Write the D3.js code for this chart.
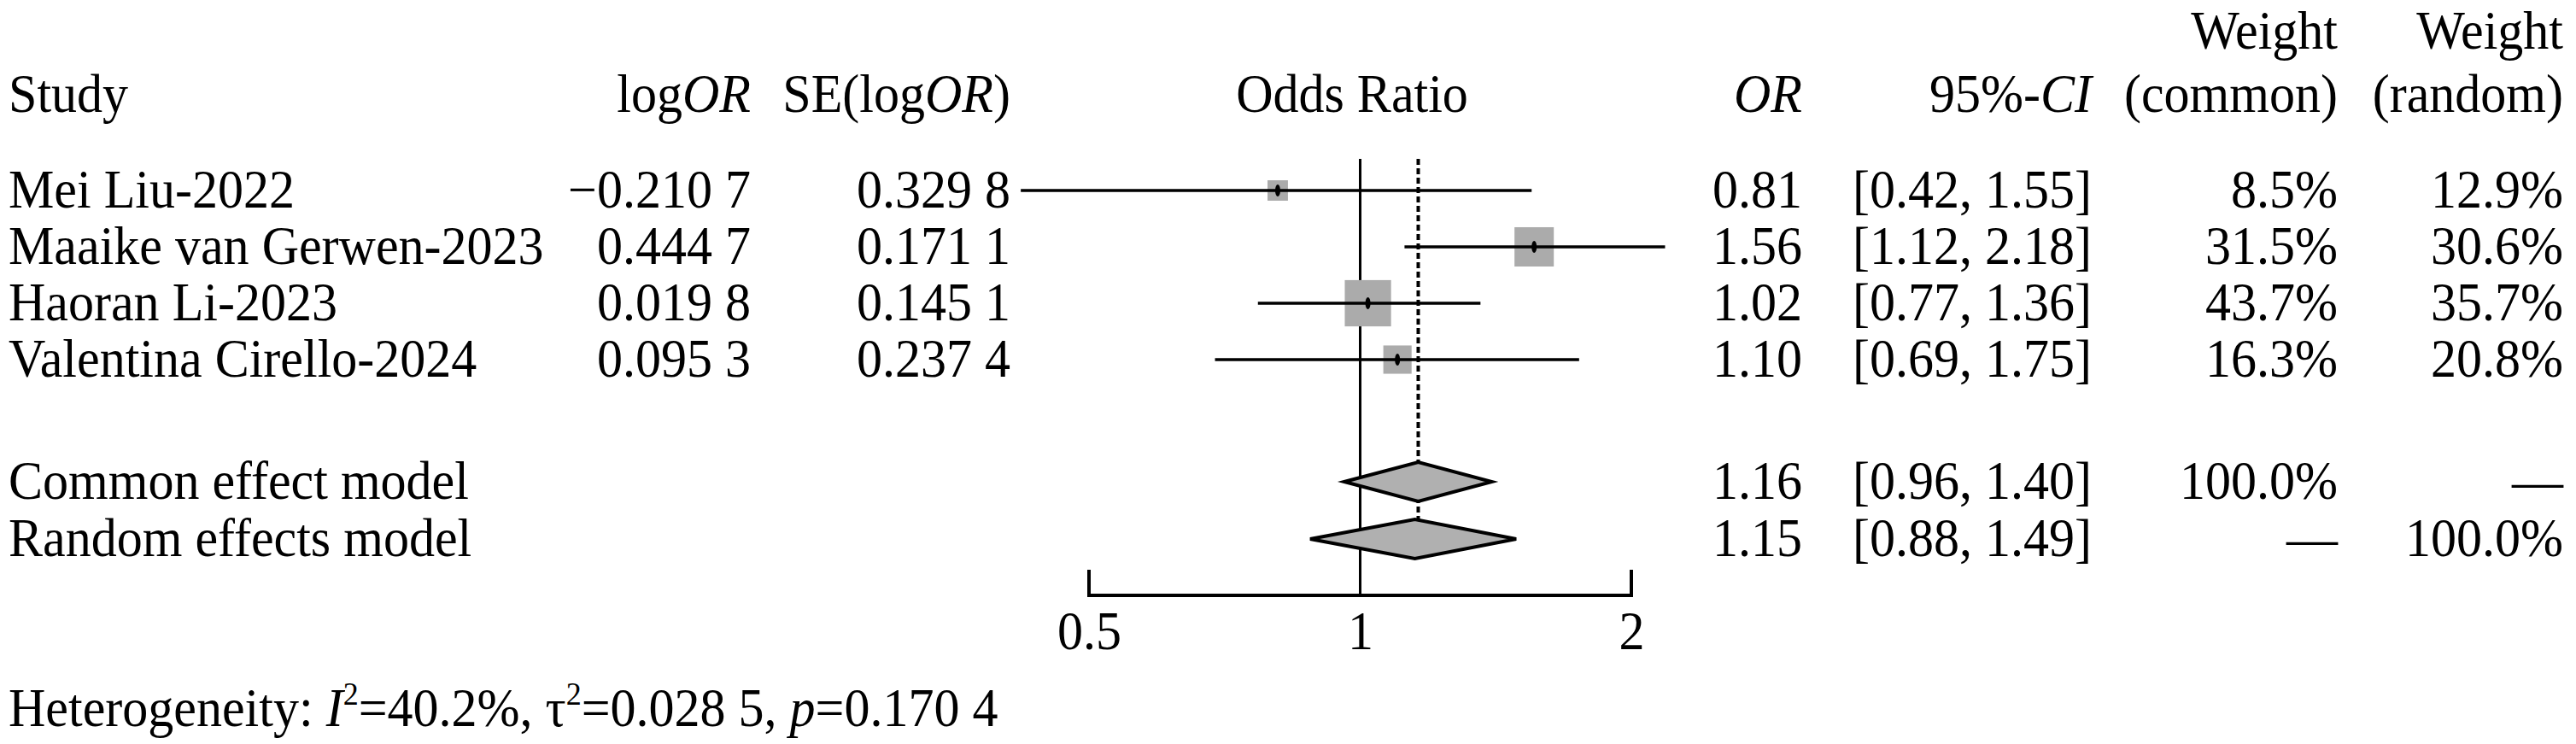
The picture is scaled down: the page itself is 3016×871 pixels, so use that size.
<!DOCTYPE html>
<html>
<head>
<meta charset="utf-8">
<script src="https://cdn.jsdelivr.net/npm/d3@7/dist/d3.min.js"></script>
<style>
  html, body { margin: 0; padding: 0; background: #fff; }
  svg { display: block; }
  text { font-family: "Liberation Serif", "Times New Roman", serif; fill: #000; }
</style>
</head>
<body>
<svg id="chart" width="3016" height="871"></svg>
<script>
// ---------- data ----------
const studies   = ["Mei Liu-2022", "Maaike van Gerwen-2023", "Haoran Li-2023", "Valentina Cirello-2024"];
const logOR     = [-0.2107, 0.4447, 0.0198, 0.0953];
const seLogOR   = [0.3298, 0.1711, 0.1451, 0.2374];
const orVal     = [0.81, 1.56, 1.02, 1.10];
const ciLower   = [0.42, 1.12, 0.77, 0.69];
const ciUpper   = [1.55, 2.18, 1.36, 1.75];
const wCommon   = [8.5, 31.5, 43.7, 16.3];
const wRandom   = [12.9, 30.6, 35.7, 20.8];

const summaryLabels = ["Common effect model", "Random effects model"];
const summaryOR     = [1.16, 1.15];
const summaryLower  = [0.96, 0.88];
const summaryUpper  = [1.40, 1.49];
const summaryWC     = ["100.0%", "\u2014"];
const summaryWR     = ["\u2014", "100.0%"];

const axisTicks = [0.5, 1, 2];
const tickLabels = ["0.5", "1", "2"];
const hetI2 = "40.2%", hetTau2 = "0.028 5", hetP = "0.170 4";

// ---------- layout ----------
const FS = 63, SX = 0.953;
const svg = d3.select("#chart");
const x = d3.scaleLog().base(2).domain([0.5, 2]).range([1275, 1910]);
const rowY = d3.scaleLinear().domain([0, 1]).range([223, 289]); // row centre
const sumY = [564, 631];
const capHalf = 20; // baseline offset from centre

const col = {
  study: 10, logor: 879, se: 1183, or: 2110, ci: 2449, wc: 2737, wr: 3001
};

function fmt4(v) {
  const s = Math.abs(v).toFixed(4);
  const t = s.slice(0, s.length - 1) + " " + s.slice(s.length - 1);
  return (v < 0 ? "\u2212" : "") + t;
}
const f2 = d3.format(".2f");
const f1 = d3.format(".1f");

function txt(xp, yp, str, anchor) {
  return svg.append("text").attr("x", 0).attr("y", 0)
    .attr("transform", `translate(${xp},${yp}) scale(${SX},1)`)
    .attr("font-size", FS).attr("text-anchor", anchor || "start").text(str);
}

// ---------- headers ----------
txt(col.wc, 57, "Weight", "end");
txt(col.wr, 57, "Weight", "end");
const hY = 131;
txt(col.study, hY, "Study");
let t = txt(col.logor, hY, "", "end");
t.append("tspan").text("log"); t.append("tspan").attr("font-style", "italic").text("OR");
t = txt(col.se, hY, "", "end");
t.append("tspan").text("SE(log"); t.append("tspan").attr("font-style", "italic").text("OR"); t.append("tspan").text(")");
txt(1583, hY, "Odds Ratio", "middle");
txt(col.or, hY, "OR", "end").attr("font-style", "italic");
t = txt(col.ci, hY, "", "end");
t.append("tspan").text("95%-"); t.append("tspan").attr("font-style", "italic").text("CI");
txt(col.wc, hY, "(common)", "end");
txt(col.wr, hY, "(random)", "end");

// ---------- reference lines ----------
const plotTop = 186, axisY = 697;
svg.append("line").attr("x1", x(1)).attr("x2", x(1)).attr("y1", plotTop).attr("y2", axisY)
  .attr("stroke", "#000").attr("stroke-width", 3);
svg.append("line").attr("x1", x(summaryOR[0])).attr("x2", x(summaryOR[0]))
  .attr("y1", plotTop).attr("y2", sumY[1] + 20)
  .attr("stroke", "#000").attr("stroke-width", 4).attr("stroke-dasharray", "7,4");

// ---------- study rows ----------
const boxK = 8.2;
studies.forEach((s, i) => {
  const cy = rowY(i);
  const by = cy + capHalf;
  txt(col.study, by, s);
  txt(col.logor, by, fmt4(logOR[i]), "end");
  txt(col.se, by, fmt4(seLogOR[i]), "end");
  txt(col.or, by, f2(orVal[i]), "end");
  txt(col.ci, by, "[" + f2(ciLower[i]) + ", " + f2(ciUpper[i]) + "]", "end");
  txt(col.wc, by, f1(wCommon[i]) + "%", "end");
  txt(col.wr, by, f1(wRandom[i]) + "%", "end");

  const side = boxK * Math.sqrt(wCommon[i]);
  svg.append("rect").attr("x", x(orVal[i]) - side / 2).attr("y", cy - side / 2)
    .attr("width", side).attr("height", side).attr("fill", "#ababab");
  svg.append("line").attr("x1", x(ciLower[i])).attr("x2", x(ciUpper[i]))
    .attr("y1", cy).attr("y2", cy).attr("stroke", "#000").attr("stroke-width", 3.5);
  svg.append("ellipse").attr("cx", x(orVal[i])).attr("cy", cy).attr("rx", 3).attr("ry", 7).attr("fill", "#000");
});

// ---------- summary rows ----------
summaryLabels.forEach((s, i) => {
  const cy = sumY[i];
  const by = cy + capHalf;
  txt(col.study, by, s);
  txt(col.or, by, f2(summaryOR[i]), "end");
  txt(col.ci, by, "[" + f2(summaryLower[i]) + ", " + f2(summaryUpper[i]) + "]", "end");
  txt(col.wc, by, summaryWC[i], "end");
  txt(col.wr, by, summaryWR[i], "end");
  const h = 23;
  const pts = [[x(summaryLower[i]), cy], [x(summaryOR[i]), cy - h], [x(summaryUpper[i]), cy], [x(summaryOR[i]), cy + h]];
  svg.append("polygon").attr("points", pts.map(p => p.join(",")).join(" "))
    .attr("fill", "#b0b0b0").attr("stroke", "#000").attr("stroke-width", 4);
});

// ---------- axis ----------
const axis = d3.axisBottom(x).tickValues(axisTicks).tickFormat((d, i) => tickLabels[i]).tickSize(0).tickPadding(0);
const g = svg.append("g").attr("transform", `translate(0,${axisY})`).call(axis);
g.select(".domain").remove();
g.selectAll(".tick text").each(function () {
  d3.select(this).attr("font-size", FS).attr("font-family", "Liberation Serif")
    .attr("dy", null).attr("y", 0).attr("transform", `translate(0,63) scale(${SX},1)`);
});
svg.append("path")
  .attr("d", `M${x(0.5)},${axisY - 30}V${axisY}H${x(2)}V${axisY - 30}`)
  .attr("fill", "none").attr("stroke", "#000").attr("stroke-width", 4);

// ---------- heterogeneity ----------
t = txt(col.study, 850, "");
t.append("tspan").text("Heterogeneity: ");
t.append("tspan").attr("font-style", "italic").text("I");
t.append("tspan").attr("font-size", FS * 0.6).attr("dy", -25).text("2");
t.append("tspan").attr("dy", 25).text("=" + hetI2 + ", \u03C4");
t.append("tspan").attr("font-size", FS * 0.6).attr("dy", -25).text("2");
t.append("tspan").attr("dy", 25).text("=" + hetTau2 + ", ");
t.append("tspan").attr("font-style", "italic").text("p");
t.append("tspan").text("=" + hetP);
</script>
</body>
</html>
